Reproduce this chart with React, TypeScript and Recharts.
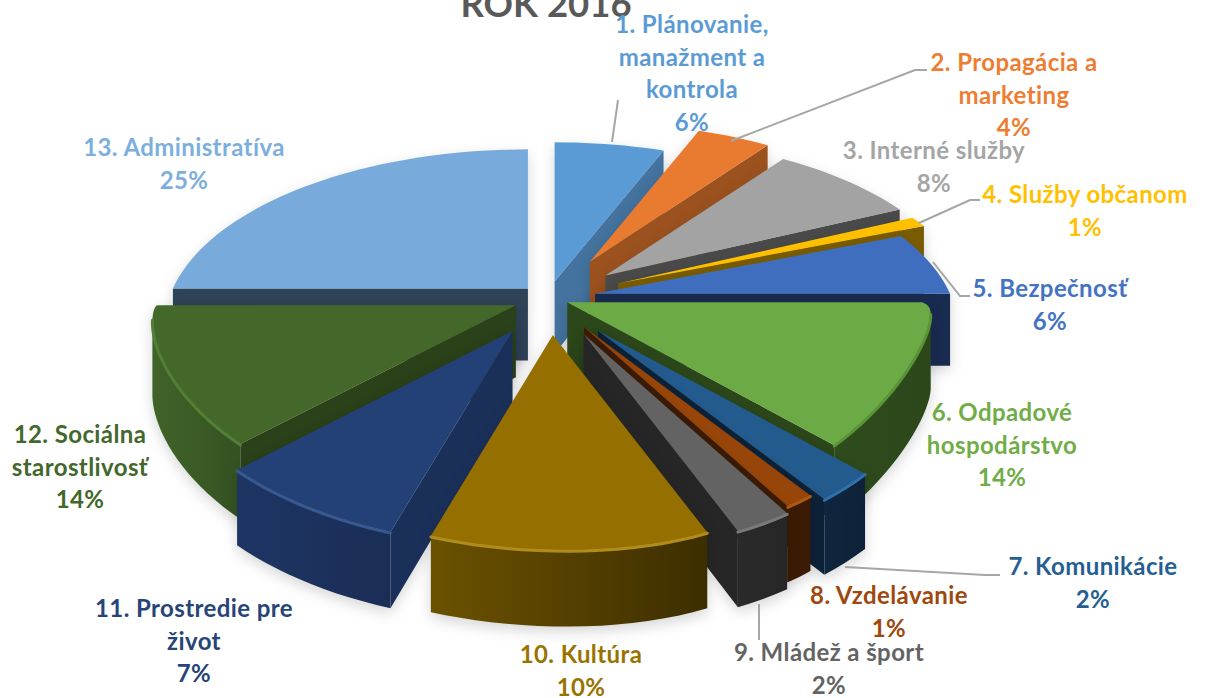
import React from "react";
import { PieChart, Pie } from "recharts";

const names = [
  ["1. Plánovanie,", "manažment a", "kontrola"],
  ["2. Propagácia a", "marketing"],
  ["3. Interné služby"],
  ["4. Služby občanom"],
  ["5. Bezpečnosť"],
  ["6. Odpadové", "hospodárstvo"],
  ["7. Komunikácie"],
  ["8. Vzdelávanie"],
  ["9. Mládež a šport"],
  ["10. Kultúra"],
  ["11. Prostredie pre", "život"],
  ["12. Sociálna", "starostlivosť"],
  ["13. Administratíva"],
];
const shares = [6, 4, 8, 1, 6, 14, 2, 1, 2, 10, 7, 14, 25];

// how far each slice is pulled out of the pie, as a part of the radius
const pull = [0.1, 0.245, 0.21, 0.215, 0.135, 0.06, 0.24, 0.2, 0.235, 0.22, 0.22, 0.1, 0.08];

const topColors = ["#5B9BD5", "#E97B30", "#A3A3A3", "#FFC000", "#406EBF", "#6BAA45", "#235B8E", "#974509", "#636363", "#957000", "#234077", "#446829", "#78ABDB"];
const wallColors = ["#44739F", "#9C521F", "#4A4A4A", "#7A5C00", "#1A2B50", "#2C471A", "#0D2238", "#3C1B05", "#262626", "#3D2E00", "#1B3059", "#2A4119", "#2E4258"];
const arcFrom = ["#44739F", "#9C521F", "#4A4A4A", "#7A5C00", "#1A2B50", "#2F4C1D", "#0F263E", "#3C1B05", "#2A2A2A", "#6B5200", "#1E3564", "#40632A", "#2E4258"];
const arcTo = ["#44739F", "#9C521F", "#4A4A4A", "#7A5C00", "#1A2B50", "#2C471A", "#0D2238", "#3C1B05", "#262626", "#3D2E00", "#1A2D55", "#355222", "#2E4258"];
const rimColors = ["#5B9BD5", "#E97B30", "#A3A3A3", "#FFC000", "#406EBF", "#5A9338", "#2F72AC", "#AE5A14", "#7A7A7A", "#B08C1A", "#37598F", "#527F35", "#78ABDB"];
const labelColors = ["#5B9BD5", "#ED7D31", "#A5A5A5", "#FFC000", "#4472C4", "#70AD47", "#255E91", "#9E480E", "#636363", "#997300", "#264478", "#43682B", "#7CAFDD"];

// centre x and first baseline of every label
const labelSpots = [[692, 33], [1014, 71], [934, 159], [1085, 203], [1050, 297], [1002, 421], [1093, 575], [889, 604], [829, 661], [581, 663], [194, 617], [80, 443], [184, 156]];

// leader lines, only some labels have one
const leaders: Record<number, string> = {
  0: "618,100 612,142",
  1: "927,70 915,70 731,141",
  3: "980,200 970,200 919,223",
  4: "970,296 960,296 933,262",
  6: "1000,575 985,575 845,567",
  8: "759,640 759,604",
};

const rows = shares.map((value, idx) => ({ name: names[idx].join(" "), value, idx }));
const rightSide = rows.slice(0, 10);
const leftSide = rows.slice(10).reverse();
const sum = (list: { value: number }[]) => list.reduce((a, r) => a + r.value, 0);
const total = sum(rows);

const FLATTEN = 0.476;
const PERSPECTIVE = 0.215;
const FRONT = 0.606; // front radius against the side radius
const LOWEST = 3.4; // the front of the pie sags a little right of the centre, degrees
const DEPTH = 72;

const Slice3D = (props: any) => {
  const { cx, cy, outerRadius, startAngle, endAngle } = props;
  const idx = props.payload?.idx ?? props.idx;
  const rad = (a: number) => (a * Math.PI) / 180;
  const mid = rad((startAngle + endAngle) / 2);
  const ax = cx + outerRadius * pull[idx] * Math.cos(mid);
  const ay = cy - outerRadius * FLATTEN * pull[idx] * Math.sin(mid);

  const steps = Math.max(2, Math.ceil(Math.abs(endAngle - startAngle) / 2));
  const arc = [];
  for (let i = 0; i <= steps; i++) {
    const a = rad(startAngle + ((endAngle - startAngle) * i) / steps);
    const u = Math.cos(a);
    const v = -Math.sin(a);
    const d = 1 - PERSPECTIVE * v;
    const front = v > 0;
    const sag = Math.max(0, -Math.sin(a - rad(LOWEST)));
    const power = 1.4 + 0.8 * Math.max(0, u);
    arc.push({
      x: ax + (outerRadius * u) / d - (front ? 12 * Math.pow(v, 4) : 0),
      y: ay + (front ? outerRadius * FRONT * Math.pow(sag, power) : (outerRadius * FLATTEN * v) / d),
      h: DEPTH * (1 + 0.06 * v),
      v,
    });
  }
  const apex = { x: ax, y: ay, h: DEPTH, v: 0 };
  const outline = [apex, ...arc];
  let area = 0;
  outline.forEach((p, i) => {
    const q = outline[(i + 1) % outline.length];
    area += p.x * q.y - q.x * p.y;
  });
  const facing = (p: any, q: any) => (q.x - p.x) * Math.sign(area) < 0;
  const quad = (p: any, q: any) =>
    `${p.x},${p.y} ${q.x},${q.y} ${q.x},${q.y + q.h} ${p.x},${p.y + p.h}`;

  const xs = arc.map((p) => p.x);
  const gradId = `arc-wall-${idx}`;
  const last = arc[arc.length - 1];

  // the part of the round side that looks at the viewer, as one shape
  const seen: any[] = [];
  for (let i = 0; i < arc.length - 1; i++) {
    if (facing(arc[i], arc[i + 1])) {
      if (!seen.includes(arc[i])) seen.push(arc[i]);
      seen.push(arc[i + 1]);
    }
  }
  const rim = seen.filter((p) => p.v > 0);
  const wall = [
    ...seen.map((p) => `${p.x},${p.y}`),
    ...[...seen].reverse().map((p) => `${p.x},${p.y + p.h}`),
  ].join(" ");

  return (
    <g style={{ filter: "drop-shadow(0 5px 7px rgba(0,0,0,0.16))" }}>
      <defs>
        <linearGradient id={gradId} gradientUnits="userSpaceOnUse" x1={Math.min(...xs)} x2={Math.max(...xs)} y1={0} y2={0}>
          <stop offset="0" stopColor={arcFrom[idx]} />
          <stop offset="1" stopColor={arcTo[idx]} />
        </linearGradient>
      </defs>
      {seen.length > 1 && <polygon points={wall} fill={`url(#${gradId})`} />}
      {facing(apex, arc[0]) && <polygon points={quad(apex, arc[0])} fill={wallColors[idx]} />}
      {facing(last, apex) && <polygon points={quad(last, apex)} fill={wallColors[idx]} />}
      <polygon points={outline.map((p) => `${p.x},${p.y}`).join(" ")} fill={topColors[idx]} />
      {rim.length > 1 && (
        <polyline
          points={rim.map((p) => `${p.x},${p.y + 1}`).join(" ")}
          fill="none"
          stroke={rimColors[idx]}
          strokeWidth={3}
          strokeLinecap="round"
        />
      )}
    </g>
  );
};

const SliceLabel = (props: any) => {
  const idx = props.payload?.idx ?? props.idx;
  const [x, y] = labelSpots[idx];
  const lines = [...names[idx], `${shares[idx]}%`];
  return (
    <g>
      {leaders[idx] && <polyline points={leaders[idx]} fill="none" stroke="#A6A6A6" strokeWidth={2} />}
      <text x={x} y={y} textAnchor="middle" fontFamily="Lato, sans-serif" fontWeight={700} fontSize={24} letterSpacing={0.4} fill={labelColors[idx]}>
        {lines.map((line, i) => (
          <tspan key={i} x={x} dy={i === 0 ? 0 : 32.5}>
            {line}
          </tspan>
        ))}
      </text>
    </g>
  );
};

export default function App() {
  return (
    <div style={{ position: "absolute", left: 0, top: 0, width: 1206, height: 698, background: "#fff", overflow: "hidden" }}>
      <PieChart width={1206} height={698} margin={{ top: 0, right: 0, bottom: 0, left: 0 }}>
        <text x={546} y={17} textAnchor="middle" fontFamily="Lato, sans-serif" fontWeight={700} fontSize={36.5} fill="#595959">
          ROK 2016
        </text>
        <Pie
          data={leftSide}
          dataKey="value"
          nameKey="name"
          cx={548}
          cy={298}
          innerRadius={0}
          outerRadius={355}
          startAngle={90}
          endAngle={90 + (sum(leftSide) / total) * 360}
          paddingAngle={0}
          stroke="none"
          shape={Slice3D}
          label={SliceLabel}
          labelLine={false}
          isAnimationActive={false}
        />
        <Pie
          data={rightSide}
          dataKey="value"
          nameKey="name"
          cx={548}
          cy={298}
          innerRadius={0}
          outerRadius={355}
          startAngle={90}
          endAngle={90 - (sum(rightSide) / total) * 360}
          paddingAngle={0}
          stroke="none"
          shape={Slice3D}
          label={SliceLabel}
          labelLine={false}
          isAnimationActive={false}
        />
      </PieChart>
    </div>
  );
}
